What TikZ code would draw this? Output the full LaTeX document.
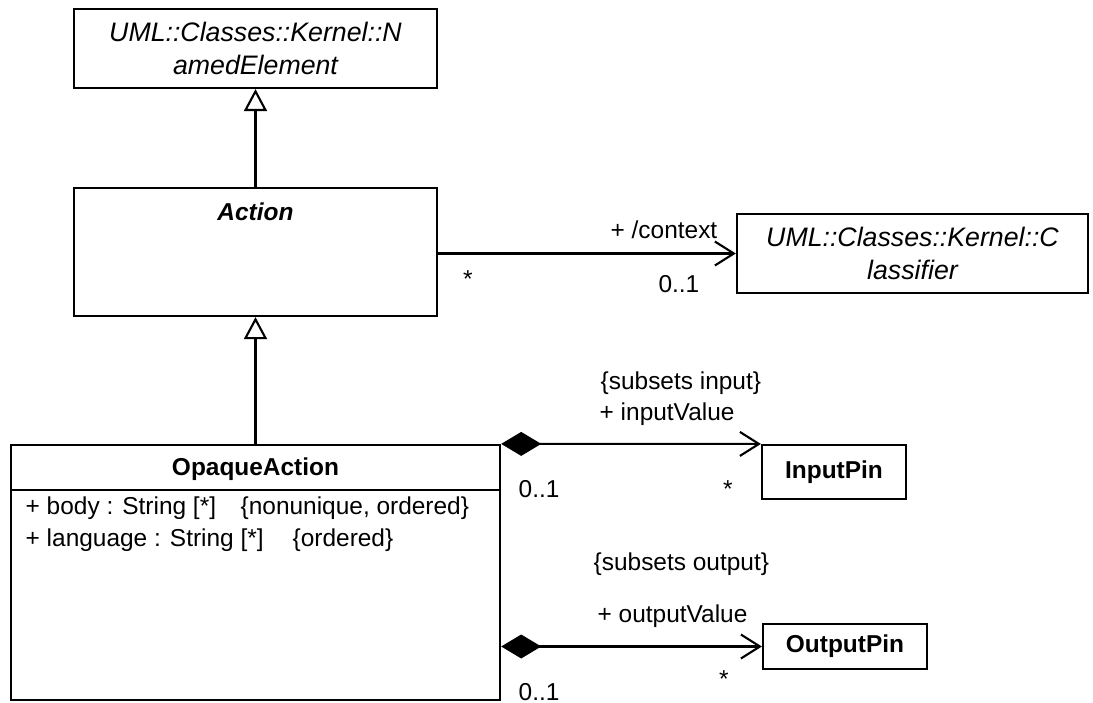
\documentclass[tikz,border=0pt]{standalone}
\usepackage{fontspec}
\setmainfont{Liberation Sans}
\usetikzlibrary{arrows.meta}

\begin{document}
\begin{tikzpicture}[x=0.01cm,y=-0.01cm,
    every node/.style={font=\fontsize{6.95}{9.1}\selectfont},
    classbox/.style={draw,line width=0.6pt,inner sep=0pt},
    qualified/.style={font=\fontsize{7.6}{9.3}\selectfont\itshape,align=center},
    title/.style={font=\fontsize{6.95}{9.1}\selectfont\bfseries},
    gen/.style={line width=0.6pt,-{Triangle[open,length=2.2mm,width=2.3mm]}},
    nav/.style={line width=0.6pt,-{Straight Barb[length=1.9mm,width=2.4mm]}},
    comp/.style={line width=0.6pt,{Diamond[length=4mm,width=2.4mm]}-{Straight Barb[length=1.9mm,width=2.4mm]}},
    lbl/.style={inner sep=0pt,anchor=base west},
    mult/.style={inner sep=0pt,anchor=base}]
    \useasboundingbox (0,0) rectangle (1093,702);

    \node[classbox,qualified,minimum width=3.63cm,minimum height=0.79cm] (named) at (255.5,48.5) {UML::Classes::Kernel::N\\amedElement};
    \node[classbox,minimum width=3.63cm,minimum height=1.28cm] (action) at (255.5,252) {};
    \node[title,font=\fontsize{6.95}{9.1}\selectfont\bfseries\itshape,anchor=base] (actionname) at (255.5,220) {Action};
    \node[classbox,qualified,minimum width=3.51cm,minimum height=0.79cm] (classifier) at (912.5,253.5) {UML::Classes::Kernel::C\\lassifier};

    \node[classbox,minimum width=4.89cm,minimum height=2.55cm] (opaque) at (255.5,572.5) {};
    \node[title,anchor=base] (opaquename) at (255.5,475) {OpaqueAction};
    \draw[line width=0.6pt] (opaque.west |- 0,490) -- (opaque.east |- 0,490);
    \node[lbl] (body) at (25,514) {+ body : String [*]};
    \node[lbl] (bodyprops) at (240,514) {\{nonunique, ordered\}};
    \node[lbl] (language) at (25,546) {+ language : String [*]};
    \node[lbl] (languageprops) at (292,546) {\{ordered\}};

    \node[classbox,title,minimum width=1.44cm,minimum height=0.54cm] (inputpin) at (834,472) {InputPin};
    \node[classbox,title,minimum width=1.64cm,minimum height=0.45cm] (outputpin) at (845,646.5) {OutputPin};

    \draw[gen] (action.north) -- (named.south);
    \draw[gen] (opaque.north) -- (action.south);
    \draw[nav] (action.east |- classifier.west) -- (classifier.west);
    \draw[comp] (opaque.north east) -- (inputpin.north west);
    \draw[comp] (opaque.east |- outputpin.west) -- (outputpin.west);

    \node[inner sep=0pt,anchor=base east] (contextrole) at (718,238) {+ /context};
    \node[inner sep=0pt,anchor=base east] (contextmult) at (700,292) {0..1};
    \node[mult] (actionmult) at (468,287) {*};

    \node[lbl] (inputsubsets) at (600,389) {\{subsets input\}};
    \node[lbl] (inputrole) at (599,420) {+ inputValue};
    \node[lbl] (inputownermult) at (518,497) {0..1};
    \node[mult] (inputmult) at (728,497) {*};

    \node[lbl] (outputsubsets) at (593,570) {\{subsets output\}};
    \node[lbl] (outputrole) at (597,622) {+ outputValue};
    \node[lbl] (outputownermult) at (518,700) {0..1};
    \node[mult] (outputmult) at (724,687) {*};
\end{tikzpicture}
\end{document}
